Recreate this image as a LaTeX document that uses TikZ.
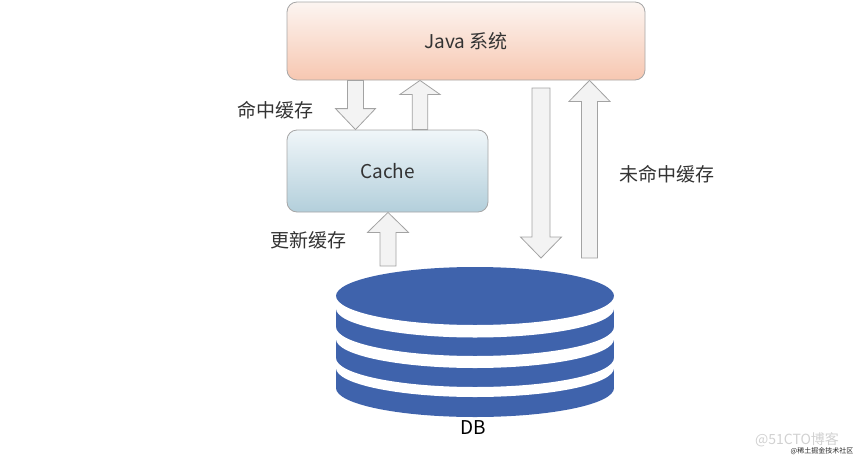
\documentclass[tikz,border=0pt]{standalone}
\usepackage{fontspec}
\setmainfont{Noto Sans CJK SC}
\usetikzlibrary{calc}
\definecolor{txt}{HTML}{333333}
\definecolor{boxline}{HTML}{A6A6A6}
\definecolor{javatop}{HTML}{FCF5F1}
\definecolor{javabot}{HTML}{F7C7B1}
\definecolor{cachetop}{HTML}{F0F6F9}
\definecolor{cachebot}{HTML}{B3CFDB}
\definecolor{arrfill}{HTML}{F3F3F3}
\definecolor{arrline}{HTML}{A3A3A3}
\definecolor{dbblue}{HTML}{3F63AC}
\tikzset{
  sysbox/.style={draw=boxline, line width=0.8pt, rounded corners=10pt, text=txt, font=\fontsize{19}{21}\selectfont},
  blockarrow/.style={draw=arrline, fill=arrfill, line width=0.8pt, line join=miter},
  lbl/.style={text=txt, font=\fontsize{19}{21}\selectfont, inner sep=0pt},
}
% #1 tail, #2 tip, #3 half shaft width, #4 half head width, #5 head length
\newcommand\blockarr[5]{%
  \draw[blockarrow] let \p1=(#1), \p2=(#2), \n1={sign(\y2-\y1)} in
    (\x1-#3,\y1) -- (\x1-#3,\y2-\n1*#5) -- (\x1-#4,\y2-\n1*#5) -- (\x1,\y2)
    -- (\x1+#4,\y2-\n1*#5) -- (\x1+#3,\y2-\n1*#5) -- (\x1+#3,\y1) -- cycle;}
\begin{document}
\begin{tikzpicture}[x=1pt,y=-1pt]
\useasboundingbox (0,0) rectangle (863,464);
% boxes
\node[sysbox, top color=javatop, bottom color=javabot, minimum width=358pt, minimum height=78pt] (java) at (466,41) {Java 系统};
\node[sysbox, top color=cachetop, bottom color=cachebot, minimum width=201pt, minimum height=82pt] (cache) at (387.5,171) {Cache};
% database
\coordinate (db) at (475,296);
\fill[dbblue] (336,296) rectangle (614,388);
\fill[dbblue] (475,296) ellipse [x radius=139pt, y radius=29pt];
\fill[dbblue] (475,388) ellipse [x radius=139pt, y radius=29pt];
\foreach \a/\b in {296/308.5, 327/339, 358/368}{
  \fill[white] (336,\a) arc[start angle=180, end angle=360, x radius=139pt, y radius=29pt]
     -- (614.5,\a) -- (614.5,\b) -- (614,\b)
     arc[start angle=360, end angle=180, x radius=139pt, y radius=29pt]
     -- (335.5,\b) -- (335.5,\a) -- cycle;
}
\node[lbl, text=black] (dblabel) at (473,428) {DB};
% arrow end points
\coordinate (h1t) at (java.south -| 355.5,0);
\coordinate (h1h) at (cache.north -| 355.5,0);
\coordinate (h2t) at (cache.north -| 420,0);
\coordinate (h2h) at (java.south -| 420,0);
\coordinate (u1t) at (388,266);
\coordinate (u1h) at (cache.south -| 388,0);
\coordinate (m1t) at (541,88);
\coordinate (m1h) at (541,258);
\coordinate (m2t) at (589.5,258);
\coordinate (m2h) at (java.south -| 589.5,0);
\blockarr{h1t}{h1h}{8pt}{20pt}{21pt}
\blockarr{h2t}{h2h}{7.8pt}{20pt}{14pt}
\blockarr{u1t}{u1h}{8pt}{20.5pt}{20pt}
\blockarr{m1t}{m1h}{9pt}{20.5pt}{21pt}
\blockarr{m2t}{m2h}{8pt}{20.5pt}{21pt}
% labels
\node[lbl] (hit) at (275,110) {命中缓存};
\node[lbl] (upd) at (308,240) {更新缓存};
\node[lbl] (miss) at (667,174) {未命中缓存};
% watermarks
\node[text=black!18, font=\fontsize{14}{16}\selectfont, inner sep=0pt] (wm1) at (797,440) {@51CTO博客};
\node[text=black!85, font=\fontsize{7}{8}\selectfont, inner sep=0pt] (wm2) at (822,451) {@稀土掘金技术社区};
\end{tikzpicture}
\end{document}
